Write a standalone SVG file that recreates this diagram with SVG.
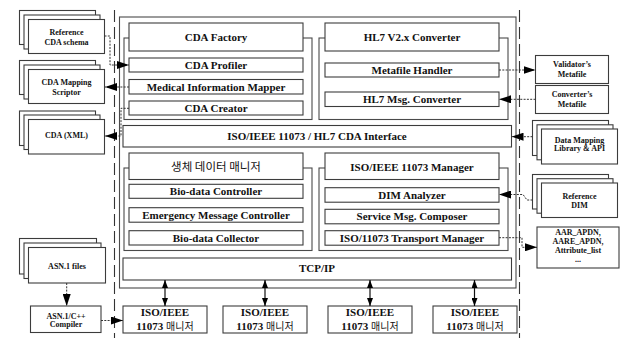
<svg xmlns="http://www.w3.org/2000/svg" width="621" height="338" viewBox="0 0 621 338">
  <defs>
    <style>
      .box { fill: #fff; stroke: #3c3c3c; stroke-width: 1.1; }
      .frame { fill: none; stroke: #4a4a4a; stroke-width: 1.1; }
      .bound { fill: none; stroke: #333; stroke-width: 1.1; stroke-dasharray: 12 5; }
      .t { font-family: "Liberation Serif", "Times New Roman", serif; font-weight: bold; fill: #111; text-anchor: middle; }
      .m { font-size: 11px; }
      .s { font-size: 8px; }
      .kr { font-family: "Noto Sans CJK KR", sans-serif; font-weight: normal; }
      .dot { fill: none; stroke: #333; stroke-width: 1; stroke-dasharray: 2 1.3; }
      .solid { fill: none; stroke: #111; stroke-width: 1.2; }
    </style>
    <marker id="head" markerUnits="userSpaceOnUse" markerWidth="12" markerHeight="8" refX="12" refY="4" orient="auto">
      <path d="M0,0 L12,4 L0,8 z" fill="#000"/>
    </marker>
    <marker id="tip" markerUnits="userSpaceOnUse" markerWidth="8" markerHeight="6" refX="8" refY="3" orient="auto-start-reverse">
      <path d="M0,0 L8,3 L0,6 z" fill="#000"/>
    </marker>
  </defs>
  <rect width="621" height="338" fill="#fff"/>

  <!-- system boundary lines -->
  <g id="boundaries">
    <line class="bound" x1="114.5" y1="10" x2="114.5" y2="338"/>
    <line class="bound" x1="519.5" y1="10" x2="519.5" y2="338"/>
  </g>

  <!-- main platform frame -->
  <g id="platform">
    <rect class="frame" x="119.5" y="17" width="396.5" height="271"/>
  </g>

  <!-- CDA side -->
  <g id="cda-factory">
    <rect class="frame" x="124" y="38" width="188" height="81.5"/>
    <rect class="box" x="129" y="23" width="174" height="28"/>
    <text class="t m" x="216" y="41">CDA Factory</text>
  </g>
  <g id="cda-profiler">
    <rect class="box" x="129" y="58" width="174" height="14"/>
    <text class="t m" x="216" y="69">CDA Profiler</text>
  </g>
  <g id="medical-information-mapper">
    <rect class="box" x="129" y="79.5" width="174" height="14.5"/>
    <text class="t m" x="216" y="90.5">Medical Information Mapper</text>
  </g>
  <g id="cda-creator">
    <rect class="box" x="129" y="101" width="174" height="14"/>
    <text class="t m" x="216" y="112">CDA Creator</text>
  </g>

  <!-- HL7 side -->
  <g id="hl7-converter">
    <rect class="frame" x="319" y="38" width="189" height="81.5"/>
    <rect class="box" x="325" y="23" width="174" height="28"/>
    <text class="t m" x="412" y="41">HL7 V2.x Converter</text>
  </g>
  <g id="metafile-handler">
    <rect class="box" x="325" y="63" width="174" height="14"/>
    <text class="t m" x="412" y="74">Metafile Handler</text>
  </g>
  <g id="hl7-msg-converter">
    <rect class="box" x="325" y="92" width="174" height="14.5"/>
    <text class="t m" x="412" y="103">HL7 Msg. Converter</text>
  </g>

  <g id="cda-interface">
    <rect class="box" x="123" y="125.5" width="388.5" height="21.5"/>
    <text class="t m" x="317" y="140">ISO/IEEE 11073 / HL7 CDA Interface</text>
  </g>

  <!-- bio-data side -->
  <g id="biodata-manager">
    <rect class="frame" x="124" y="168" width="188" height="82.5"/>
    <rect class="box" x="129" y="153" width="174" height="26.5"/>
    <text class="t kr" x="216" y="170.5" font-size="11.5">생체 데이터 매니저</text>
  </g>
  <g id="biodata-controller">
    <rect class="box" x="129" y="184.3" width="174" height="14"/>
    <text class="t m" x="216" y="195.3">Bio-data Controller</text>
  </g>
  <g id="emergency-message-controller">
    <rect class="box" x="129" y="207.7" width="174" height="14.5"/>
    <text class="t m" x="216" y="218.5">Emergency Message Controller</text>
  </g>
  <g id="biodata-collector">
    <rect class="box" x="129" y="230.7" width="174" height="14.3"/>
    <text class="t m" x="216" y="241.6">Bio-data Collector</text>
  </g>

  <!-- 11073 manager side -->
  <g id="iso-manager">
    <rect class="frame" x="319" y="168" width="189" height="82.5"/>
    <rect class="box" x="325" y="153" width="174" height="26.5"/>
    <text class="t m" x="412" y="170.5">ISO/IEEE 11073 Manager</text>
  </g>
  <g id="dim-analyzer">
    <rect class="box" x="325" y="187.7" width="174" height="14.5"/>
    <text class="t m" x="412" y="198.5">DIM Analyzer</text>
  </g>
  <g id="service-msg-composer">
    <rect class="box" x="325" y="209.3" width="174" height="14.5"/>
    <text class="t m" x="412" y="220.2">Service Msg. Composer</text>
  </g>
  <g id="transport-manager">
    <rect class="box" x="325" y="230.7" width="174" height="14.5"/>
    <text class="t m" x="412" y="241.6">ISO/11073 Transport Manager</text>
  </g>

  <g id="tcp-ip">
    <rect class="box" x="123" y="258" width="388.5" height="22"/>
    <text class="t m" x="317" y="272.2">TCP/IP</text>
  </g>

  <!-- agent managers -->
  <g id="manager-1">
    <rect class="box" x="123" y="306" width="84" height="27"/>
    <text class="t m" x="165" y="315.8">ISO/IEEE</text>
    <text class="t m" x="165" y="330.3">11073 <tspan class="kr" font-size="10">매니저</tspan></text>
  </g>
  <g id="manager-2">
    <rect class="box" x="223" y="306" width="84" height="27"/>
    <text class="t m" x="265" y="315.8">ISO/IEEE</text>
    <text class="t m" x="265" y="330.3">11073 <tspan class="kr" font-size="10">매니저</tspan></text>
  </g>
  <g id="manager-3">
    <rect class="box" x="328" y="306" width="84" height="27"/>
    <text class="t m" x="370" y="315.8">ISO/IEEE</text>
    <text class="t m" x="370" y="330.3">11073 <tspan class="kr" font-size="10">매니저</tspan></text>
  </g>
  <g id="manager-4">
    <rect class="box" x="433" y="306" width="84" height="27"/>
    <text class="t m" x="475" y="315.8">ISO/IEEE</text>
    <text class="t m" x="475" y="330.3">11073 <tspan class="kr" font-size="10">매니저</tspan></text>
  </g>

  <!-- external resources, left -->
  <g id="reference-cda-schema">
    <rect class="box" x="19.5" y="10.5" width="76" height="34"/>
    <rect class="box" x="24" y="15" width="76" height="34"/>
    <rect class="box" x="28.5" y="19.5" width="76" height="34"/>
    <text class="t s" x="66.5" y="35">Reference</text>
    <text class="t s" x="66.5" y="45">CDA schema</text>
  </g>
  <g id="cda-mapping-scriptor">
    <rect class="box" x="19.5" y="60.5" width="76" height="34"/>
    <rect class="box" x="24" y="65" width="76" height="34"/>
    <rect class="box" x="28.5" y="69.5" width="76" height="34"/>
    <text class="t s" x="66.5" y="84.5">CDA Mapping</text>
    <text class="t s" x="66.5" y="94.5">Scriptor</text>
  </g>
  <g id="cda-xml">
    <rect class="box" x="19.5" y="111" width="76" height="34.5"/>
    <rect class="box" x="24" y="115" width="76" height="34.5"/>
    <rect class="box" x="28.5" y="119.5" width="76" height="34.5"/>
    <text class="t s" x="66.5" y="137.8">CDA (XML)</text>
  </g>
  <g id="asn1-files">
    <rect class="box" x="19.5" y="238.5" width="77" height="35.5"/>
    <rect class="box" x="24" y="243" width="77" height="35.5"/>
    <rect class="box" x="28.5" y="247.5" width="77" height="35.5"/>
    <text class="t s" x="67" y="268.5" font-size="7.5">ASN.1 files</text>
  </g>
  <g id="asn1-compiler">
    <rect class="box" x="30.5" y="306" width="70.5" height="26.5"/>
    <text class="t s" x="66" y="318.5" font-size="7.5">ASN.1/C++</text>
    <text class="t s" x="66" y="327" font-size="7.5">Compiler</text>
  </g>

  <!-- external resources, right -->
  <g id="validator-metafile">
    <rect class="box" x="535.5" y="55.5" width="73" height="28"/>
    <text class="t s" x="572" y="67">Validator’s</text>
    <text class="t s" x="572" y="77">Metafile</text>
  </g>
  <g id="converter-metafile">
    <rect class="box" x="535.5" y="85.5" width="73" height="28"/>
    <text class="t s" x="572" y="96.8">Converter’s</text>
    <text class="t s" x="572" y="106.8">Metafile</text>
  </g>
  <g id="data-mapping-library">
    <rect class="box" x="532.5" y="120.5" width="76" height="35"/>
    <rect class="box" x="537" y="124.8" width="76" height="35"/>
    <rect class="box" x="541.5" y="129" width="76" height="35"/>
    <text class="t s" x="579.5" y="143">Data Mapping</text>
    <text class="t s" x="579.5" y="151.3">Library &amp; API</text>
  </g>
  <g id="reference-dim">
    <rect class="box" x="532.5" y="174.5" width="76" height="34.5"/>
    <rect class="box" x="537" y="178.7" width="76" height="34.5"/>
    <rect class="box" x="541.5" y="183" width="76" height="34.5"/>
    <text class="t s" x="579.5" y="198.5">Reference</text>
    <text class="t s" x="579.5" y="208">DIM</text>
  </g>
  <g id="apdu-list">
    <rect class="box" x="537" y="227" width="82" height="41"/>
    <text class="t s" x="578" y="234.5">AAR_APDN,</text>
    <text class="t s" x="578" y="243.8">AARE_APDN,</text>
    <text class="t s" x="578" y="253">Attribute_list</text>
    <text class="t s" x="578" y="261.5">...</text>
  </g>

  <!-- connectors -->
  <g id="connectors">
    <path class="dot" d="M104.5,36 H110 V65 H129" marker-end="url(#head)"/>
    <path class="dot" d="M129,87 H105" marker-end="url(#head)"/>
    <path class="dot" d="M129,108.3 H121 V136 H105" marker-end="url(#head)"/>
    <path class="dot" d="M499,70 H535.5" marker-end="url(#head)"/>
    <path class="dot" d="M535.5,99.3 H499" marker-end="url(#head)"/>
    <path class="dot" d="M532.5,136.7 H511.5" marker-end="url(#head)"/>
    <path class="dot" d="M532.5,200 H527 L523,194.5 H499" marker-end="url(#head)"/>
    <path class="dot" d="M499,237.7 H522 V247.3 H537" marker-end="url(#head)"/>
    <path class="dot" d="M66.7,283 V306" marker-end="url(#head)"/>
    <path class="dot" d="M101,320.5 H123" marker-end="url(#head)"/>
    <path class="solid" d="M165,280 V306" marker-start="url(#tip)" marker-end="url(#tip)"/>
    <path class="solid" d="M265,280 V306" marker-start="url(#tip)" marker-end="url(#tip)"/>
    <path class="solid" d="M370,280 V306" marker-start="url(#tip)" marker-end="url(#tip)"/>
    <path class="solid" d="M474.5,280 V306" marker-start="url(#tip)" marker-end="url(#tip)"/>
  </g>
</svg>
